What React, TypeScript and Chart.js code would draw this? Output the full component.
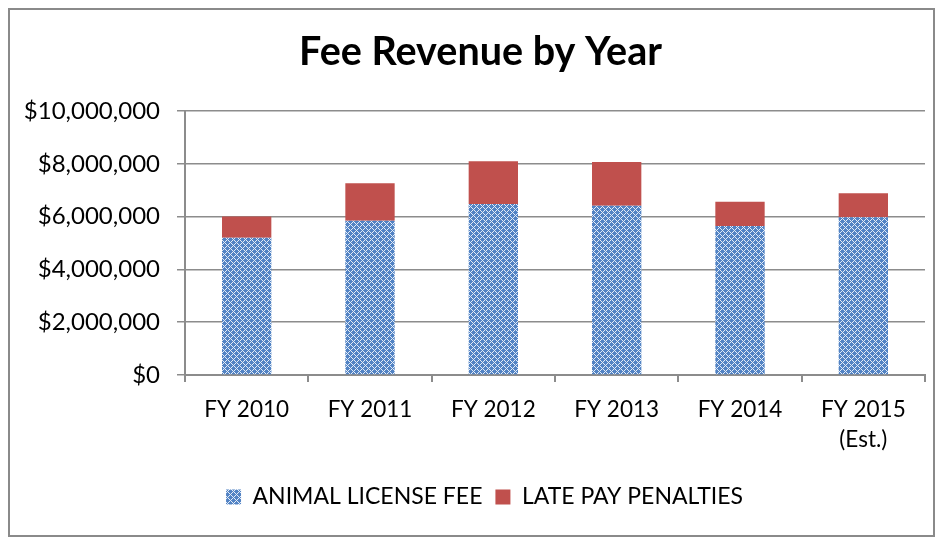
import React, { useEffect, useRef } from "react";
import { Chart, registerables } from "chart.js";

Chart.register(...registerables);

const categories: (string | string[])[] = ["FY 2010", "FY 2011", "FY 2012", "FY 2013", "FY 2014", ["FY 2015", "(Est.)"]];
const licenseFee = [5200000, 5840000, 6480000, 6410000, 5640000, 5980000];
const latePenalties = [800000, 1420000, 1620000, 1660000, 920000, 900000];
const yTicks = [0, 2000000, 4000000, 6000000, 8000000, 10000000];
const seriesNames = ["ANIMAL LICENSE FEE", "LATE PAY PENALTIES"];
const titleText = "Fee Revenue by Year";

const BLUE = "#4F81BD";
const RED = "#C0504D";
const AXIS = "#8c8c8c";
const FONT = "Lato";

function makePattern(): CanvasPattern | string {
  const n = 6;
  const c = document.createElement("canvas");
  c.width = n;
  c.height = n;
  const g = c.getContext("2d");
  if (!g) return BLUE;
  g.fillStyle = "#5283c4";
  g.fillRect(0, 0, n, n);
  g.fillStyle = "#e4ecf7";
  for (let x = 0; x < n; x++) {
    for (let y = 0; y < n; y++) {
      if ((x + y) % n === 0 || (x - y + n) % n === 0) g.fillRect(x, y, 1, 1);
    }
  }
  const p = g.createPattern(c, "repeat");
  return p || BLUE;
}

const borderPlugin = {
  id: "outerBorder",
  afterLayout(chart: any) {
    // centre title and legend as in the original layout
    if (chart.legend) chart.legend.left += 36;
    if (chart.titleBlock) chart.titleBlock.left += 28;
  },
  afterDraw(chart: any) {
    const ctx = chart.ctx;
    ctx.save();
    ctx.strokeStyle = "#8a8a8a";
    ctx.lineWidth = 2;
    ctx.strokeRect(1, 1, chart.width - 2, chart.height - 2);
    ctx.restore();
  },
};

export default function App() {
  const ref = useRef<HTMLCanvasElement>(null);

  useEffect(() => {
    if (!ref.current) return;
    const pattern = makePattern();
    const chart = new Chart(ref.current, {
      type: "bar",
      data: {
        labels: categories,
        datasets: [
          {
            label: seriesNames[0],
            data: licenseFee,
            backgroundColor: pattern as any,
            borderWidth: 0,
            barPercentage: 0.4,
            categoryPercentage: 1,
          },
          {
            label: seriesNames[1],
            data: latePenalties,
            backgroundColor: RED,
            borderWidth: 0,
            barPercentage: 0.4,
            categoryPercentage: 1,
          },
        ],
      },
      options: {
        responsive: false,
        animation: false,
        devicePixelRatio: 1,
        layout: { padding: { left: 0, right: 10, top: 0, bottom: 18.5 } },
        plugins: {
          tooltip: { enabled: false },
          title: {
            display: true,
            text: titleText,
            color: "#000",
            font: { family: FONT, size: 39.5, weight: "bold" },
            padding: { top: 20.3, bottom: 35.3 },
          },
          legend: {
            display: true,
            position: "bottom",
            labels: {
              color: "#000",
              font: { family: FONT, size: 23 },
              boxWidth: 15,
              boxHeight: 15,
              padding: 13,
            },
          },
        },
        scales: {
          x: {
            stacked: true,
            grid: { drawOnChartArea: false, drawTicks: true, tickLength: 7, color: AXIS, lineWidth: 2 },
            border: { display: true, color: AXIS, width: 2 },
            ticks: {
              color: "#000",
              font: { family: FONT, size: 22.5, lineHeight: 1.33 },
              padding: 13,
              maxRotation: 0,
              autoSkip: false,
            },
            afterFit: (s: any) => {
              s.height = 97.5;
            },
          },
          y: {
            stacked: true,
            min: 0,
            max: 10000000,
            grid: { color: AXIS, lineWidth: 1.5, tickLength: 8 },
            border: { display: true, color: AXIS, width: 2 },
            afterBuildTicks: (s: any) => {
              s.ticks = yTicks.map((v) => ({ value: v }));
            },
            ticks: {
              color: "#000",
              font: { family: FONT, size: 24 },
              padding: 17,
              callback: (v: any) => "$" + Number(v).toLocaleString("en-US"),
            },
            afterFit: (s: any) => {
              s.width = 177;
            },
          },
        },
      },
      plugins: [borderPlugin],
    });
    return () => chart.destroy();
  }, []);

  return (
    <div style={{ position: "absolute", left: 8, top: 8, width: 927, height: 529 }}>
      <canvas ref={ref} width={927} height={529} style={{ display: "block" }} />
    </div>
  );
}
